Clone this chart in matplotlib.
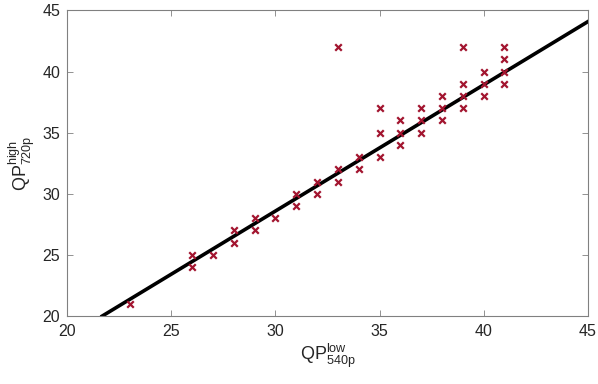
import matplotlib
matplotlib.use("Agg")
import matplotlib.pyplot as plt
import numpy as np

# Data
qp_low = [23, 26, 26, 27, 28, 28, 29, 29, 30, 31, 31, 32, 32,
          33, 33, 33, 34, 34, 35, 35, 35, 36, 36, 36, 37, 37, 37,
          38, 38, 38, 39, 39, 39, 39, 40, 40, 40, 41, 41, 41, 41]
qp_high = [21, 25, 24, 25, 27, 26, 28, 27, 28, 30, 29, 31, 30,
           42, 32, 31, 33, 32, 37, 35, 33, 36, 35, 34, 37, 36, 35,
           38, 37, 36, 42, 39, 38, 37, 40, 39, 38, 42, 41, 40, 39]
fit_slope = 1.0326
fit_intercept = -2.387
xticks = [20, 25, 30, 35, 40, 45]
yticks = [20, 25, 30, 35, 40, 45]

plt.rcParams['font.family'] = ['Liberation Sans', 'DejaVu Sans']
plt.rcParams['mathtext.fontset'] = 'custom'
plt.rcParams['mathtext.rm'] = 'Liberation Sans'
plt.rcParams['mathtext.it'] = 'Liberation Sans:italic'

fig = plt.figure(figsize=(5.98, 3.84), dpi=100)
ax = fig.add_axes([0.1125, 0.177, 0.8703, 0.7957])

axcol = '#262626'
ax.scatter(qp_low, qp_high, marker='x', s=22, linewidths=1.6,
           color='#A2142F', zorder=3)
xl = np.array([(20 - fit_intercept) / fit_slope, 45])
ax.plot(xl, fit_slope * xl + fit_intercept, color='black', lw=2.6, zorder=2)

ax.set_xlim(20, 45)
ax.set_ylim(20, 45)
ax.set_xticks(xticks)
ax.set_yticks(yticks)
ax.tick_params(direction='in', length=4, width=0.6, colors='#808080',
               labelsize=11.5, top=True, right=True, labeltop=False,
               labelright=False, labelcolor=axcol)
ax.tick_params(axis='x', pad=6)
ax.tick_params(axis='y', pad=5)
for s in ax.spines.values():
    s.set_color('#808080')
    s.set_linewidth(0.8)

ax.set_xlabel(r'$\mathrm{QP}^{\mathrm{low}}_{\mathrm{540p}}$', fontsize=13, color=axcol, labelpad=2)
ax.set_ylabel(r'$\mathrm{QP}^{\mathrm{high}}_{\mathrm{720p}}$', fontsize=13, color=axcol, labelpad=4)

fig.savefig('out.png', dpi=100)
